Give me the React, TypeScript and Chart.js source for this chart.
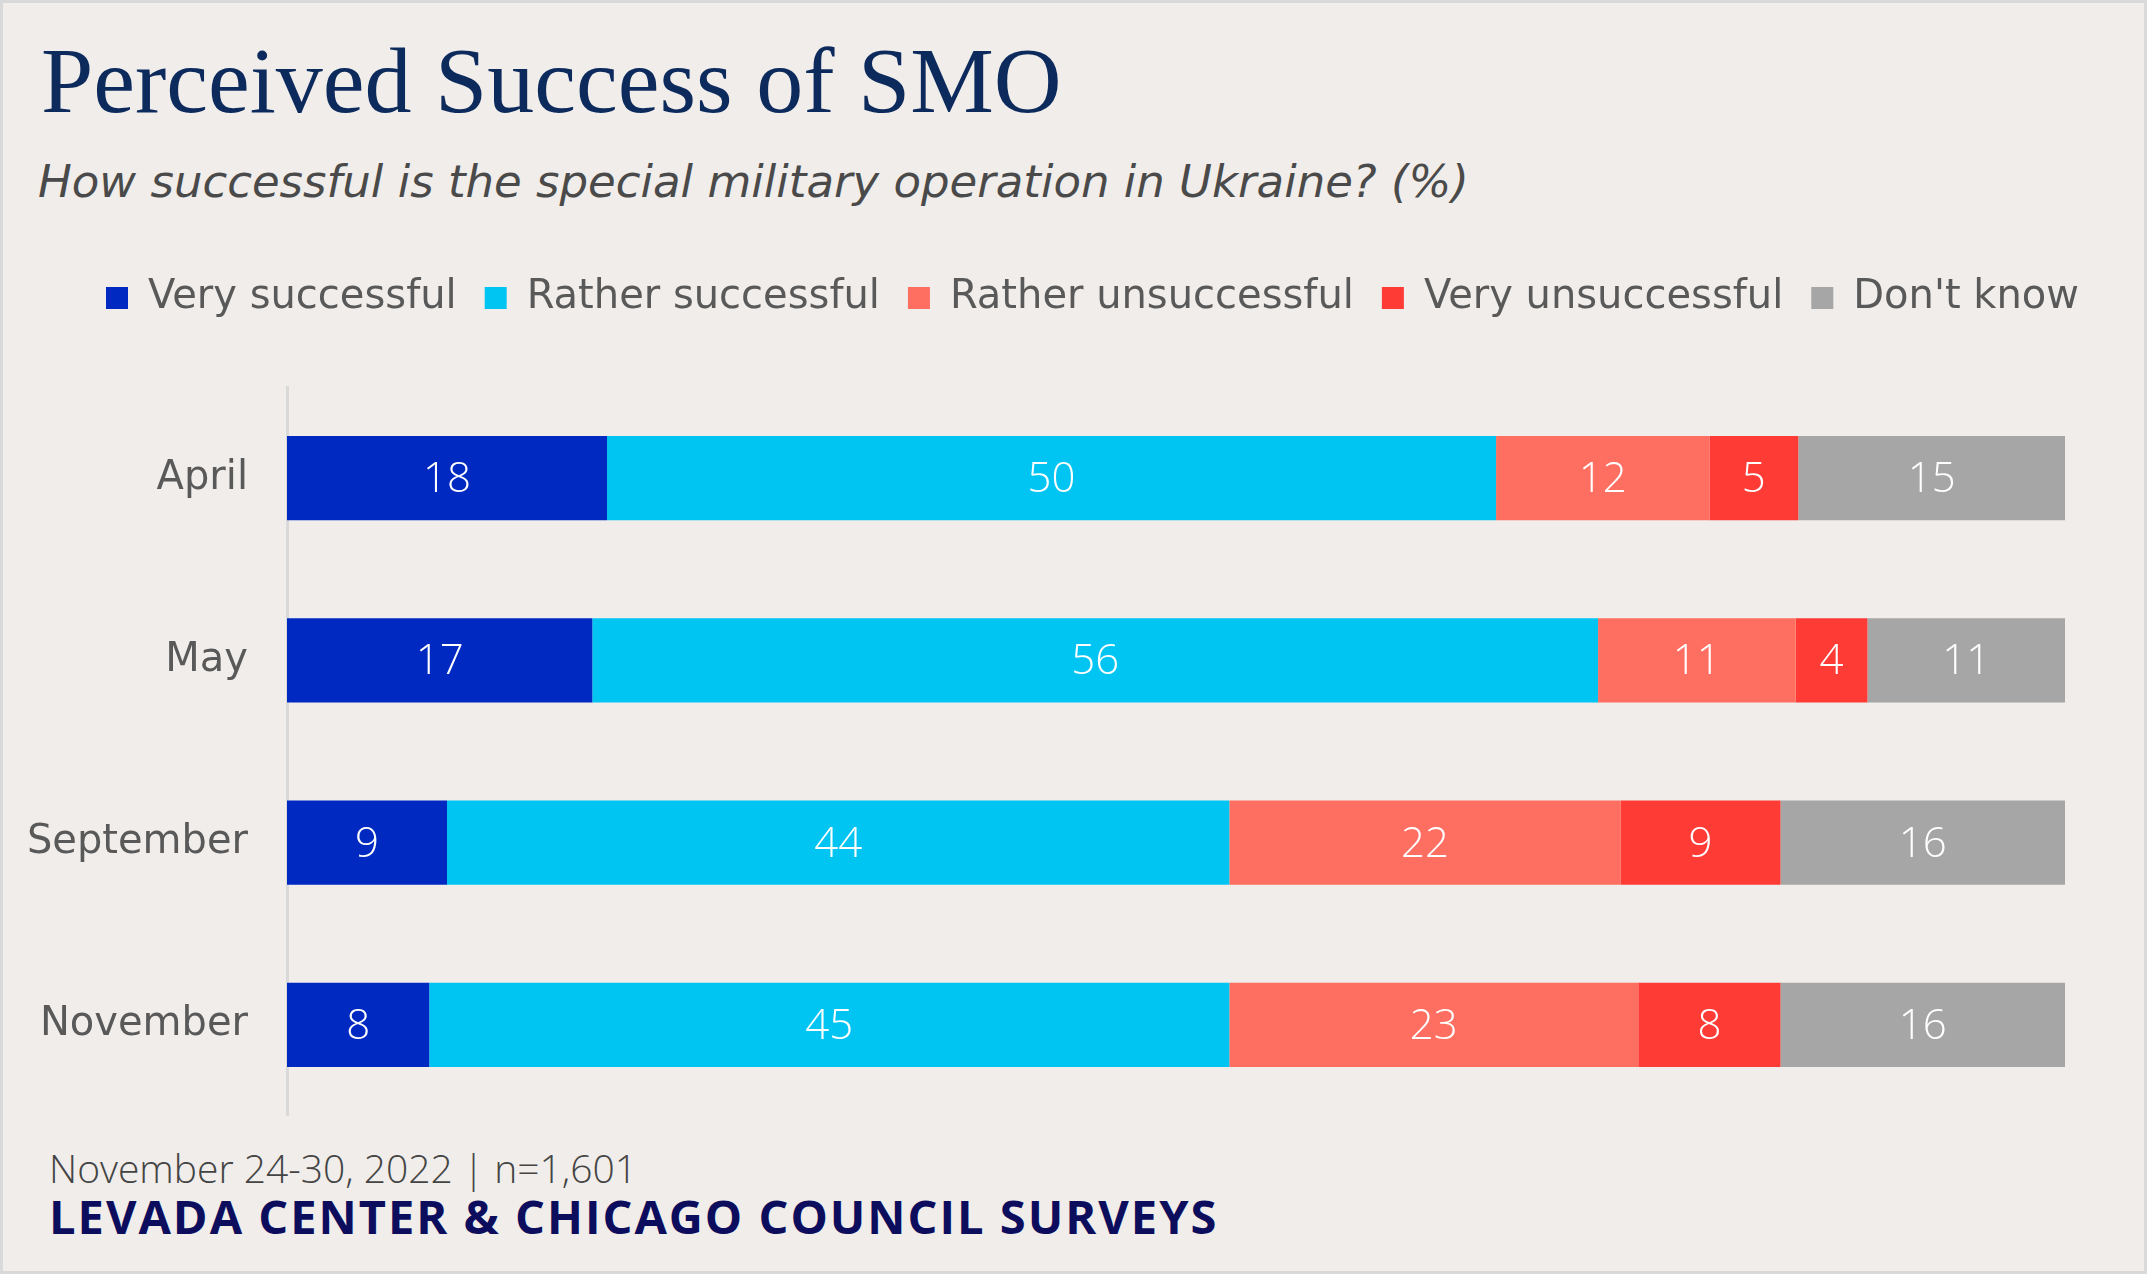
import React, { useEffect, useRef } from "react";
import { Chart, registerables } from "chart.js";

Chart.register(...registerables);

// ---- data ----
const categories = ["April", "May", "September", "November"];
const seriesNames = [
  "Very successful",
  "Rather successful",
  "Rather unsuccessful",
  "Very unsuccessful",
  "Don't know",
];
const verySuccessful = [18, 17, 9, 8];
const ratherSuccessful = [50, 56, 44, 45];
const ratherUnsuccessful = [12, 11, 22, 23];
const veryUnsuccessful = [5, 4, 9, 8];
const dontKnow = [15, 11, 16, 16];
const seriesColors = ["#0029c2", "#00c5f3", "#ff6f61", "#ff3b36", "#a6a6a6"];

const rawSeries = [verySuccessful, ratherSuccessful, ratherUnsuccessful, veryUnsuccessful, dontKnow];
const rowTotals = categories.map((_, i) => rawSeries.reduce((s, arr) => s + arr[i], 0));

const LABEL_FONT = "'DejaVu Sans', sans-serif";
const NUM_FONT = "'Open Sans', 'DejaVu Sans', sans-serif";

const barLabels = {
  id: "barLabels",
  afterDatasetsDraw(chart: any) {
    const ctx = chart.ctx;
    ctx.save();
    ctx.font = `300 42px ${NUM_FONT}`;
    ctx.fillStyle = "#ffffff";
    ctx.textAlign = "center";
    ctx.textBaseline = "middle";
    chart.data.datasets.forEach((ds: any, di: number) => {
      const meta = chart.getDatasetMeta(di);
      meta.data.forEach((bar: any, i: number) => {
        const p = bar.getProps(["x", "y", "base"], true);
        ctx.fillText(String(rawSeries[di][i]), (p.x + p.base) / 2, p.y + 2);
      });
    });
    ctx.restore();
  },
};

// centre the legend row over the same span as the original graphic
const legendShift = {
  id: "legendShift",
  afterLayout(chart: any) {
    if (chart.legend) {
      chart.legend.left = 0;
      chart.legend.right = 2185;
    }
  },
};

export default function App() {
  const ref = useRef<HTMLCanvasElement>(null);

  useEffect(() => {
    if (!ref.current) return;
    const chart = new Chart(ref.current, {
      type: "bar",
      data: {
        labels: categories,
        datasets: rawSeries.map((arr, di) => ({
          label: seriesNames[di],
          data: arr.map((v, i) => (v / rowTotals[i]) * 100),
          backgroundColor: seriesColors[di],
          borderWidth: 0,
          categoryPercentage: 1,
          barPercentage: 0.461,
        })),
      },
      options: {
        indexAxis: "y",
        responsive: false,
        animation: false,
        layout: { padding: { left: 0, right: 82, top: 0, bottom: 0 } },
        scales: {
          x: {
            stacked: true,
            min: 0,
            max: 100,
            position: "top",
            display: true,
            grid: { display: false, drawTicks: false },
            border: { display: false },
            ticks: { display: false },
            afterFit(scale: any) {
              scale.height = 59;
            },
          },
          y: {
            stacked: true,
            grid: { display: false, drawTicks: false },
            border: { display: true, color: "#d9d9d9", width: 3 },
            ticks: {
              color: "#595959",
              padding: 39,
              font: { family: LABEL_FONT, size: 40 },
            },
            afterFit(scale: any) {
              scale.width = 287;
              scale.paddingTop = 0;
              scale.paddingBottom = 0;
            },
          },
        },
        plugins: {
          legend: {
            display: true,
            position: "top",
            labels: {
              boxWidth: 22,
              boxHeight: 22,
              padding: 28,
              color: "#595959",
              font: { family: LABEL_FONT, size: 40 },
            },
          },
          tooltip: { enabled: false },
        },
      },
      plugins: [barLabels, legendShift],
    } as any);
    return () => chart.destroy();
  }, []);

  return (
    <div
      style={{
        position: "absolute",
        left: 0,
        top: 0,
        width: 2147,
        height: 1274,
        background: "#f0edea",
        boxShadow: "inset 0 0 0 3px #d9d9d9",
        overflow: "hidden",
      }}
    >
      <div
        style={{
          position: "absolute",
          left: 41,
          top: 33,
          fontFamily: "'Liberation Serif', 'DejaVu Serif', serif",
          fontSize: 94,
          lineHeight: 1,
          color: "#0c2a5c",
          whiteSpace: "nowrap",
        }}
      >
        Perceived Success of SMO
      </div>
      <div
        style={{
          position: "absolute",
          left: 38,
          top: 159,
          fontFamily: LABEL_FONT,
          fontStyle: "italic",
          fontSize: 45,
          lineHeight: 1,
          color: "#4a4a4a",
          whiteSpace: "nowrap",
        }}
      >
        How successful is the special military operation in Ukraine? (%)
      </div>
      <canvas
        ref={ref}
        width={2147}
        height={866}
        style={{ position: "absolute", left: 0, top: 250, width: 2147, height: 866 }}
      />
      <div
        style={{
          position: "absolute",
          left: 49,
          top: 1148,
          fontFamily: NUM_FONT,
          fontWeight: 300,
          fontSize: 39,
          lineHeight: 1,
          color: "#444444",
          whiteSpace: "nowrap",
        }}
      >
        November 24-30, 2022 | n=1,601
      </div>
      <div
        style={{
          position: "absolute",
          left: 49,
          top: 1193,
          fontFamily: NUM_FONT,
          fontWeight: 700,
          fontSize: 47,
          letterSpacing: 2,
          lineHeight: 1,
          color: "#0d0d5e",
          whiteSpace: "nowrap",
        }}
      >
        LEVADA CENTER &amp; CHICAGO COUNCIL SURVEYS
      </div>
    </div>
  );
}
